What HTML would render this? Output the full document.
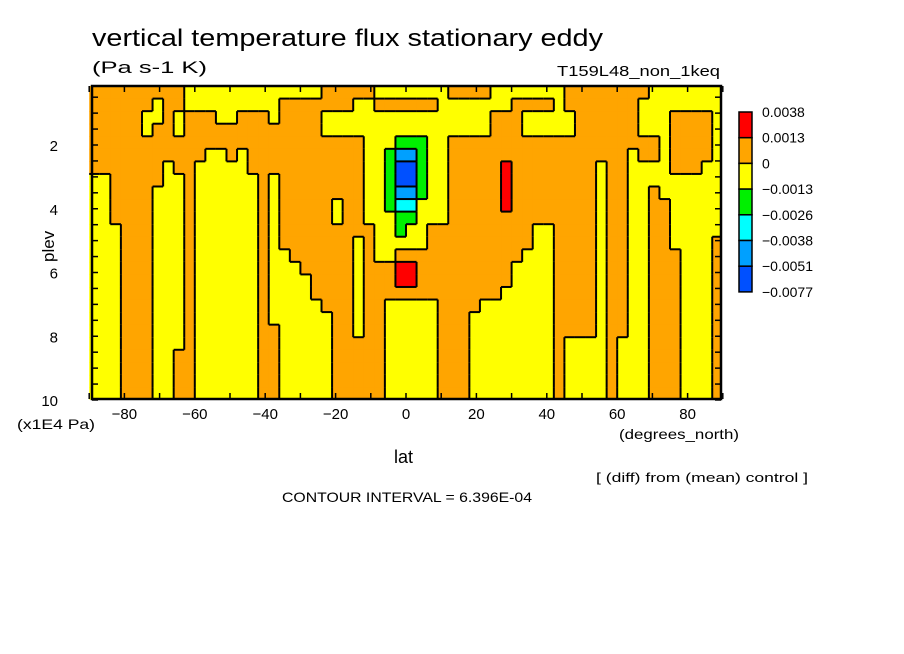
<!DOCTYPE html>
<html><head><meta charset="utf-8"><style>
html,body{margin:0;padding:0;background:#fff;}
svg{display:block;font-family:"Liberation Sans",sans-serif;}
</style></head><body>
<svg id="chart" width="904" height="654" viewBox="0 0 904 654" xmlns="http://www.w3.org/2000/svg">
<rect x="0" y="0" width="904" height="654" fill="#fff"/>
<text x="92" y="46" font-size="24" textLength="511" lengthAdjust="spacingAndGlyphs">vertical temperature flux stationary eddy</text>
<text x="92" y="73" font-size="17" textLength="115" lengthAdjust="spacingAndGlyphs">(Pa s-1 K)</text>
<text x="557" y="76" font-size="15" textLength="163" lengthAdjust="spacingAndGlyphs">T159L48_non_1keq</text>
<g id="field"></g>
<g id="edges"></g>
<g id="axes"></g>
<g id="cbar"></g>
<text transform="translate(54,262) rotate(-90)" font-size="17">plev</text>
<text x="17" y="429" font-size="14" textLength="78" lengthAdjust="spacingAndGlyphs">(x1E4 Pa)</text>
<text x="394" y="463" font-size="18">lat</text>
<text x="619" y="439" font-size="14" textLength="120" lengthAdjust="spacingAndGlyphs">(degrees_north)</text>
<text x="596" y="482" font-size="13" textLength="212" lengthAdjust="spacingAndGlyphs">[ (diff) from (mean) control ]</text>
<text x="282" y="502" font-size="14" textLength="250" lengthAdjust="spacingAndGlyphs">CONTOUR INTERVAL = 6.396E-04</text>
</svg>
<script>
// ---- data ----
const latEdges = [-90, 90];
const latStep = 3;
const plevTop = 0.15;
const plevStep = 0.394;
// category codes per latitude column, top (low plev) to bottom (plev 10)
const columns = [
"OOOOOOOYYYYYYYYYYYYYYYYYY","OOOOOOOYYYYYYYYYYYYYYYYYY","OOOOOOOOOOOYYYYYYYYYYYYYY","OOOOOOOOOOOOOOOOOOOOOOOOO",
"OOOOOOOOOOOOOOOOOOOOOOOOO","OOYYOOOOOOOOOOOOOOOOOOOOO","OYYOOOOOYYYYYYYYYYYYYYYYY","OOOOOOYYYYYYYYYYYYYYYYYYY",
"OOYYOOOYYYYYYYYYYYYYYOOOO","YYOOOOOOOOOOOOOOOOOOOOOOO","YYOOOOYYYYYYYYYYYYYYYYYYY","YYOOOYYYYYYYYYYYYYYYYYYYY",
"YYYOOYYYYYYYYYYYYYYYYYYYY","YYYOOOYYYYYYYYYYYYYYYYYYY","YYOOOYYYYYYYYYYYYYYYYYYYY","YYOOOOOYYYYYYYYYYYYYYYYYY",
"YYOOOOOOOOOOOOOOOOOOOOOOO","YYYOOOOYYYYYYYYYYYYOOOOOO","YOOOOOOOOOOOOYYYYYYYYYYYY","YOOOOOOOOOOOOOYYYYYYYYYYY",
"YOOOOOOOOOOOOOOYYYYYYYYYY","YOOOOOOOOOOOOOOOOYYYYYYYY","OOYYOOOOOOOOOOOOOOYYYYYYY","OOYYOOOOOYYOOOOOOOOOOOOOO",
"OOYYOOOOOOOOOOOOOOOOOOOOO","OYYYOOOOOOOOYYYYYYYYOOOOO","OYYYYYYYYYYOOOOOOOOOOOOOO","YOYYYYYYYYYYYYOOOOOOOOOOO",
"YOYYYGGGGGYYYYOOOYYYYYYYY","YOYYGLBBLCGGYORROYYYYYYYY","YOYYGLBBLCGYYORROYYYYYYYY","YOYYGGGGGYYYYOOOOYYYYYYYY",
"YOYYYYYYYYYOOOOOOYYYYYYYY","YYYYYYYYYYYOOOOOOOOOOOOOO","OYYYOOOOOOOOOOOOOOOOOOOOO","OYYYOOOOOOOOOOOOOOOOOOOOO",
"OYYYOOOOOOOOOOOOOOYYYYYYY","OYYYOOOOOOOOOOOOOYYYYYYYY","YYOOOOOOOOOOOOOOOYYYYYYYY","YYOOOORRRROOOOOOYYYYYYYYY",
"YOOOOOOOOOOOOOYYYYYYYYYYY","YOYYOOOOOOOOOYYYYYYYYYYYY","YOYYOOOOOOOYYYYYYYYYYYYYY","YOYYOOOOOOOYYYYYYYYYYYYYY",
"YYYYOOOOOOOOOOOOOOOOOOOOO","OOYYOOOOOOOOOOOOOOOOYYYYY","OOOOOOOOOOOOOOOOOOOOYYYYY","OOOOOOOOOOOOOOOOOOOOYYYYY",
"OOOOOOYYYYYYYYYYYYYYYYYYY","OOOOOOOOOOOOOOOOOOOOOOOOO","OOOOOOOOOOOOOOOOOOOOYYYYY","OOOOOYYYYYYYYYYYYYYYYYYYY",
"OYYYOOYYYYYYYYYYYYYYYYYYY","YYYYOOYYOOOOOOOOOOOOOOOOO","YYYYYYYYYOOOOOOOOOOOOOOOO","YYOOOOOYYYYYYOOOOOOOOOOOO",
"YYOOOOOYYYYYYYYYYYYYYYYYY","YYOOOOOYYYYYYYYYYYYYYYYYY","YYOOOOYYYYYYYYYYYYYYYYYYY","YYYYYYYYYYYYOOOOOOOOOOOOO"
];
const levelLabels = ["0.0038","0.0013","0","\u22120.0013","\u22120.0026","\u22120.0038","\u22120.0051","\u22120.0077"];
const levelCodes = ["R","O","Y","G","C","L","B"];
const levelColors = ["#ff0000","#ffa500","#ffff00","#00f000","#00ffff","#00a0ff","#0050ff"];
const xTicks = [-80,-60,-40,-20,0,20,40,60,80];
const yTicks = [2,4,6,8,10];

// ---- axes ----
const X0=92, X1=721, Y0=86, Y1=399;
const x = lat => 406 + lat*3.52;
const y = p => 145 + (p-2)*31.875;
const NS="http://www.w3.org/2000/svg";
function mk(tag, attrs, parent){const e=document.createElementNS(NS,tag);for(const k in attrs)e.setAttribute(k,attrs[k]);parent.appendChild(e);return e;}
const colorOf = {}; levelCodes.forEach((c,i)=>colorOf[c]=levelColors[i]);
const field=document.getElementById('field'), edges=document.getElementById('edges'), axes=document.getElementById('axes'), cbar=document.getElementById('cbar');
const nRows = 25;
function cell(ci,ri){const s=columns[ci]; if(!s) return null; return s[Math.min(ri,s.length-1)];}
function cx(ci){const a=Math.max(latEdges[0]+ci*latStep,latEdges[0]);return x(a);}
function ry(ri){return Math.min(Math.max(y(plevTop+ri*plevStep),Y0),Y1);}
for(let ci=0;ci<columns.length;ci++){
  for(let ri=0;ri<nRows;ri++){
    const c=cell(ci,ri);
    const xa=cx(ci), xb=Math.min(cx(ci+1),X1), ya=ri===0?Y0:ry(ri), yb=ri===nRows-1?Y1:ry(ri+1);
    const r=mk('rect',{x:xa,y:ya,width:xb-xa+0.6,height:yb-ya+0.6,fill:colorOf[c]||'#ffa500'},field);
    
    
    const cr=cell(ci+1,ri);
    if(cr && cr!==c){const l=mk('line',{x1:xb,y1:ya,x2:xb,y2:yb,stroke:'#000','stroke-width':2},edges);
      
      }
    if(ri<nRows-1){const cb=cell(ci,ri+1);
      if(cb!==c){const l=mk('line',{x1:xa,y1:yb,x2:xb,y2:yb,stroke:'#000','stroke-width':2},edges);
        
        }}
  }
}
// frame
const fr=mk('rect',{x:X0,y:Y0,width:X1-X0,height:Y1-Y0,fill:'none',stroke:'#000','stroke-width':2.5},axes);


// minor ticks
for(let lat=-90;lat<=90;lat+=10){
  const t=mk('line',{x1:x(lat),y1:Y1,x2:x(lat),y2:Y1-6,stroke:'#000','stroke-width':1.5},axes);
  
  
  const t2=mk('line',{x1:x(lat),y1:Y0,x2:x(lat),y2:Y0+6,stroke:'#000','stroke-width':1.5},axes);
  
  
}
for(let p=0.5;p<=10;p+=0.5){
  if(y(p)<Y0) continue;
  const t=mk('line',{x1:X0,y1:y(p),x2:X0+6,y2:y(p),stroke:'#000','stroke-width':1.5},axes);
  
  
  const t2=mk('line',{x1:X1,y1:y(p),x2:X1-6,y2:y(p),stroke:'#000','stroke-width':1.5},axes);
  
  
}
xTicks.forEach(v=>{
  const t=mk('text',{x:x(v),y:419,'font-size':15,'text-anchor':'middle'},axes);
  t.textContent=(v<0?'\u2212':'')+Math.abs(v);
  
  
});
yTicks.forEach(v=>{
  const t=mk('text',{x:58,y:y(v)+6,'font-size':15,'text-anchor':'end'},axes);
  t.textContent=String(v);
  
  
});
// colorbar
const CB0=112, CBH=25.7;
levelColors.forEach((col,i)=>{
  const r=mk('rect',{x:739,y:CB0+i*CBH,width:13,height:CBH,fill:col,stroke:'#000','stroke-width':1.5},cbar);
  
  
});
levelLabels.forEach((lab,i)=>{
  const t=mk('text',{x:762,y:CB0+i*CBH+5,'font-size':14},cbar);
  t.textContent=lab;
  
  
});
</script>
</body></html>
